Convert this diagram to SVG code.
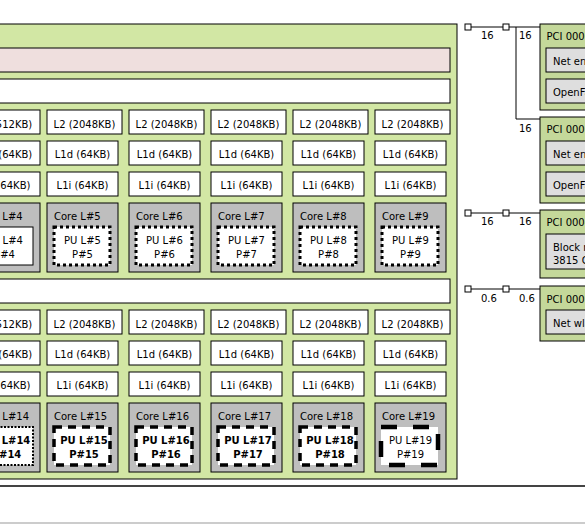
<svg xmlns="http://www.w3.org/2000/svg" width="585" height="524" viewBox="0 0 585 524">
<style>
text{font-family:"DejaVu Sans","Liberation Sans",sans-serif;font-size:10px;fill:#000}
.c{text-anchor:middle}
.b{font-weight:bold}
.box{stroke:#000;stroke-width:1}
.pkg{fill:#d2e7a4}
.numa{fill:#efdfde}
.cache{fill:#fff}
.core{fill:#bebebe}
.pu{fill:#fff;stroke:#000;stroke-width:1}
.pud{fill:#fff;stroke:#000;stroke-width:3;stroke-dasharray:3 3}
.puf{fill:#fff;stroke:#000;stroke-width:2;stroke-dasharray:2 1.5}
.pus{fill:#fff;stroke:#000;stroke-width:3.5;stroke-dasharray:8 6}
.pul{fill:#fff;stroke:#000;stroke-width:4.5;stroke-dasharray:16 16}
.pci{fill:#c4d89a}
.os{fill:#dedede}
.ln{stroke:#000;stroke-width:1;fill:none}
.port{fill:#fff;stroke:#000;stroke-width:1}
</style>
<rect x="0" y="0" width="585" height="524" fill="#fff"/>
<g id="machine-bottom">
<line x1="-10" y1="486" x2="600" y2="486" stroke="#444" stroke-width="2"/>
<line x1="-10" y1="523" x2="600" y2="523" stroke="#999" stroke-width="1"/>
</g>
<g id="package"><rect class="box pkg" x="-50" y="24" width="507" height="455"/></g>
<g id="numa"><rect class="box numa" x="-40" y="48" width="490" height="24"/></g>
<g id="l3-0"><rect class="box cache" x="-40" y="79" width="490" height="24"/></g>
<g id="l3-1"><rect class="box cache" x="-40" y="279" width="490" height="24"/></g>

<!-- top half -->
<g id="l2-4"><rect class="box cache" x="-31" y="110" width="71" height="24"/><text class="c" x="4.5" y="127.5">L2 (512KB)</text></g>
<g id="l2-5"><rect class="box cache" x="47" y="110" width="75" height="24"/><text class="c" x="84.5" y="127.5">L2 (2048KB)</text></g>
<g id="l2-6"><rect class="box cache" x="129" y="110" width="75" height="24"/><text class="c" x="166.5" y="127.5">L2 (2048KB)</text></g>
<g id="l2-7"><rect class="box cache" x="211" y="110" width="75" height="24"/><text class="c" x="248.5" y="127.5">L2 (2048KB)</text></g>
<g id="l2-8"><rect class="box cache" x="293" y="110" width="75" height="24"/><text class="c" x="330.5" y="127.5">L2 (2048KB)</text></g>
<g id="l2-9"><rect class="box cache" x="375" y="110" width="75" height="24"/><text class="c" x="412.5" y="127.5">L2 (2048KB)</text></g>

<g id="l1d-4"><rect class="box cache" x="-31" y="141" width="71" height="24"/><text class="c" x="4.5" y="158">L1d (64KB)</text></g>
<g id="l1d-5"><rect class="box cache" x="47" y="141" width="71" height="24"/><text class="c" x="82.5" y="158">L1d (64KB)</text></g>
<g id="l1d-6"><rect class="box cache" x="129" y="141" width="71" height="24"/><text class="c" x="164.5" y="158">L1d (64KB)</text></g>
<g id="l1d-7"><rect class="box cache" x="211" y="141" width="71" height="24"/><text class="c" x="246.5" y="158">L1d (64KB)</text></g>
<g id="l1d-8"><rect class="box cache" x="293" y="141" width="71" height="24"/><text class="c" x="328.5" y="158">L1d (64KB)</text></g>
<g id="l1d-9"><rect class="box cache" x="375" y="141" width="71" height="24"/><text class="c" x="410.5" y="158">L1d (64KB)</text></g>

<g id="l1i-4"><rect class="box cache" x="-31" y="172" width="71" height="24"/><text class="c" x="4.5" y="189">L1i (64KB)</text></g>
<g id="l1i-5"><rect class="box cache" x="47" y="172" width="71" height="24"/><text class="c" x="82.5" y="189">L1i (64KB)</text></g>
<g id="l1i-6"><rect class="box cache" x="129" y="172" width="71" height="24"/><text class="c" x="164.5" y="189">L1i (64KB)</text></g>
<g id="l1i-7"><rect class="box cache" x="211" y="172" width="71" height="24"/><text class="c" x="246.5" y="189">L1i (64KB)</text></g>
<g id="l1i-8"><rect class="box cache" x="293" y="172" width="71" height="24"/><text class="c" x="328.5" y="189">L1i (64KB)</text></g>
<g id="l1i-9"><rect class="box cache" x="375" y="172" width="71" height="24"/><text class="c" x="410.5" y="189">L1i (64KB)</text></g>

<g id="core-4"><rect class="box core" x="-31" y="203" width="71" height="69"/><text x="-24" y="220">Core L#4</text></g>
<g id="core-5"><rect class="box core" x="47" y="203" width="71" height="69"/><text x="54" y="220">Core L#5</text></g>
<g id="core-6"><rect class="box core" x="129" y="203" width="71" height="69"/><text x="136" y="220">Core L#6</text></g>
<g id="core-7"><rect class="box core" x="211" y="203" width="71" height="69"/><text x="218" y="220">Core L#7</text></g>
<g id="core-8"><rect class="box core" x="293" y="203" width="71" height="69"/><text x="300" y="220">Core L#8</text></g>
<g id="core-9"><rect class="box core" x="375" y="203" width="71" height="69"/><text x="382" y="220">Core L#9</text></g>

<g id="pu-4"><rect class="pu" x="-24" y="227" width="57" height="38"/><text class="c" x="4.5" y="244">PU L#4</text><text class="c" x="4.5" y="258">P#4</text></g>
<g id="pu-5"><rect class="pud" x="54" y="227" width="56" height="38"/><text class="c" x="82.5" y="244">PU L#5</text><text class="c" x="82.5" y="258">P#5</text></g>
<g id="pu-6"><rect class="pud" x="136" y="227" width="56" height="38"/><text class="c" x="164.5" y="244">PU L#6</text><text class="c" x="164.5" y="258">P#6</text></g>
<g id="pu-7"><rect class="pud" x="218" y="227" width="56" height="38"/><text class="c" x="246.5" y="244">PU L#7</text><text class="c" x="246.5" y="258">P#7</text></g>
<g id="pu-8"><rect class="pud" x="300" y="227" width="56" height="38"/><text class="c" x="328.5" y="244">PU L#8</text><text class="c" x="328.5" y="258">P#8</text></g>
<g id="pu-9"><rect class="pud" x="382" y="227" width="56" height="38"/><text class="c" x="410.5" y="244">PU L#9</text><text class="c" x="410.5" y="258">P#9</text></g>

<!-- bottom half -->
<g id="l2-14"><rect class="box cache" x="-31" y="310" width="71" height="24"/><text class="c" x="4.5" y="327.5">L2 (512KB)</text></g>
<g id="l2-15"><rect class="box cache" x="47" y="310" width="75" height="24"/><text class="c" x="84.5" y="327.5">L2 (2048KB)</text></g>
<g id="l2-16"><rect class="box cache" x="129" y="310" width="75" height="24"/><text class="c" x="166.5" y="327.5">L2 (2048KB)</text></g>
<g id="l2-17"><rect class="box cache" x="211" y="310" width="75" height="24"/><text class="c" x="248.5" y="327.5">L2 (2048KB)</text></g>
<g id="l2-18"><rect class="box cache" x="293" y="310" width="75" height="24"/><text class="c" x="330.5" y="327.5">L2 (2048KB)</text></g>
<g id="l2-19"><rect class="box cache" x="375" y="310" width="75" height="24"/><text class="c" x="412.5" y="327.5">L2 (2048KB)</text></g>

<g id="l1d-14"><rect class="box cache" x="-31" y="341" width="71" height="24"/><text class="c" x="4.5" y="358">L1d (64KB)</text></g>
<g id="l1d-15"><rect class="box cache" x="47" y="341" width="71" height="24"/><text class="c" x="82.5" y="358">L1d (64KB)</text></g>
<g id="l1d-16"><rect class="box cache" x="129" y="341" width="71" height="24"/><text class="c" x="164.5" y="358">L1d (64KB)</text></g>
<g id="l1d-17"><rect class="box cache" x="211" y="341" width="71" height="24"/><text class="c" x="246.5" y="358">L1d (64KB)</text></g>
<g id="l1d-18"><rect class="box cache" x="293" y="341" width="71" height="24"/><text class="c" x="328.5" y="358">L1d (64KB)</text></g>
<g id="l1d-19"><rect class="box cache" x="375" y="341" width="71" height="24"/><text class="c" x="410.5" y="358">L1d (64KB)</text></g>

<g id="l1i-14"><rect class="box cache" x="-31" y="372" width="71" height="24"/><text class="c" x="4.5" y="389">L1i (64KB)</text></g>
<g id="l1i-15"><rect class="box cache" x="47" y="372" width="71" height="24"/><text class="c" x="82.5" y="389">L1i (64KB)</text></g>
<g id="l1i-16"><rect class="box cache" x="129" y="372" width="71" height="24"/><text class="c" x="164.5" y="389">L1i (64KB)</text></g>
<g id="l1i-17"><rect class="box cache" x="211" y="372" width="71" height="24"/><text class="c" x="246.5" y="389">L1i (64KB)</text></g>
<g id="l1i-18"><rect class="box cache" x="293" y="372" width="71" height="24"/><text class="c" x="328.5" y="389">L1i (64KB)</text></g>
<g id="l1i-19"><rect class="box cache" x="375" y="372" width="71" height="24"/><text class="c" x="410.5" y="389">L1i (64KB)</text></g>

<g id="core-14"><rect class="box core" x="-31" y="403" width="71" height="69"/><text x="-24" y="420">Core L#14</text></g>
<g id="core-15"><rect class="box core" x="47" y="403" width="71" height="69"/><text x="54" y="420">Core L#15</text></g>
<g id="core-16"><rect class="box core" x="129" y="403" width="71" height="69"/><text x="136" y="420">Core L#16</text></g>
<g id="core-17"><rect class="box core" x="211" y="403" width="71" height="69"/><text x="218" y="420">Core L#17</text></g>
<g id="core-18"><rect class="box core" x="293" y="403" width="71" height="69"/><text x="300" y="420">Core L#18</text></g>
<g id="core-19"><rect class="box core" x="375" y="403" width="71" height="69"/><text x="382" y="420">Core L#19</text></g>

<g id="pu-14"><rect class="puf" x="-24" y="427" width="57" height="38"/><text class="c b" x="6.5" y="444">PU L#14</text><text class="c b" x="6.5" y="458">P#14</text></g>
<g id="pu-15"><rect class="pus" x="54" y="427" width="56" height="38"/><text class="c b" x="84" y="444">PU L#15</text><text class="c b" x="84" y="458">P#15</text></g>
<g id="pu-16"><rect class="pus" x="136" y="427" width="56" height="38"/><text class="c b" x="166" y="444">PU L#16</text><text class="c b" x="166" y="458">P#16</text></g>
<g id="pu-17"><rect class="pus" x="218" y="427" width="56" height="38"/><text class="c b" x="248" y="444">PU L#17</text><text class="c b" x="248" y="458">P#17</text></g>
<g id="pu-18"><rect class="pus" x="300" y="427" width="56" height="38"/><text class="c b" x="330" y="444">PU L#18</text><text class="c b" x="330" y="458">P#18</text></g>
<g id="pu-19"><rect class="pul" x="381" y="427" width="57" height="38"/><text class="c" x="410.5" y="444">PU L#19</text><text class="c" x="410.5" y="458">P#19</text></g>

<!-- I/O -->
<g id="connectors">
<path class="ln" d="M471 27H503M509 27H540M516 27V119H540"/>
<path class="ln" d="M471 213H503M509 213H540"/>
<path class="ln" d="M471 289H503M509 289H540"/>
<rect class="port" x="465" y="24" width="6" height="6"/>
<rect class="port" x="503" y="24" width="6" height="6"/>
<rect class="port" x="465" y="210" width="6" height="6"/>
<rect class="port" x="503" y="210" width="6" height="6"/>
<rect class="port" x="465" y="286" width="6" height="6"/>
<rect class="port" x="503" y="286" width="6" height="6"/>
<text x="481" y="39">16</text>
<text x="519" y="39">16</text>
<text x="519" y="132">16</text>
<text x="481" y="225">16</text>
<text x="519" y="225">16</text>
<text x="481" y="302">0.6</text>
<text x="519" y="302">0.6</text>
</g>

<g id="pci-1"><rect class="box pci" x="540" y="24" width="80" height="86"/><text x="546.5" y="40">PCI 0000:01:00.0</text></g>
<g id="net-1"><rect class="box os" x="546" y="48" width="70" height="24"/><text x="553" y="65">Net enp1s0f0</text></g>
<g id="ofed-1"><rect class="box os" x="546" y="79" width="70" height="24"/><text x="553" y="96">OpenFabrics mlx5_0</text></g>
<g id="pci-2"><rect class="box pci" x="540" y="117" width="80" height="86"/><text x="546.5" y="133">PCI 0000:01:00.1</text></g>
<g id="net-2"><rect class="box os" x="546" y="141" width="70" height="24"/><text x="553" y="158">Net enp1s0f1</text></g>
<g id="ofed-2"><rect class="box os" x="546" y="172" width="70" height="24"/><text x="553" y="189">OpenFabrics mlx5_1</text></g>
<g id="pci-3"><rect class="box pci" x="540" y="210" width="80" height="68"/><text x="546.5" y="226">PCI 0004:01:00.0</text></g>
<g id="block-1"><rect class="box os" x="546" y="234" width="70" height="35"/><text x="553" y="250.5">Block nvme0n1</text><text x="553" y="264">3815 GB</text></g>
<g id="pci-4"><rect class="box pci" x="540" y="286" width="80" height="55"/><text x="546.5" y="302.5">PCI 0009:01:00.0</text></g>
<g id="net-3"><rect class="box os" x="546" y="310" width="70" height="24"/><text x="553" y="327">Net wlan0</text></g>
</svg>
